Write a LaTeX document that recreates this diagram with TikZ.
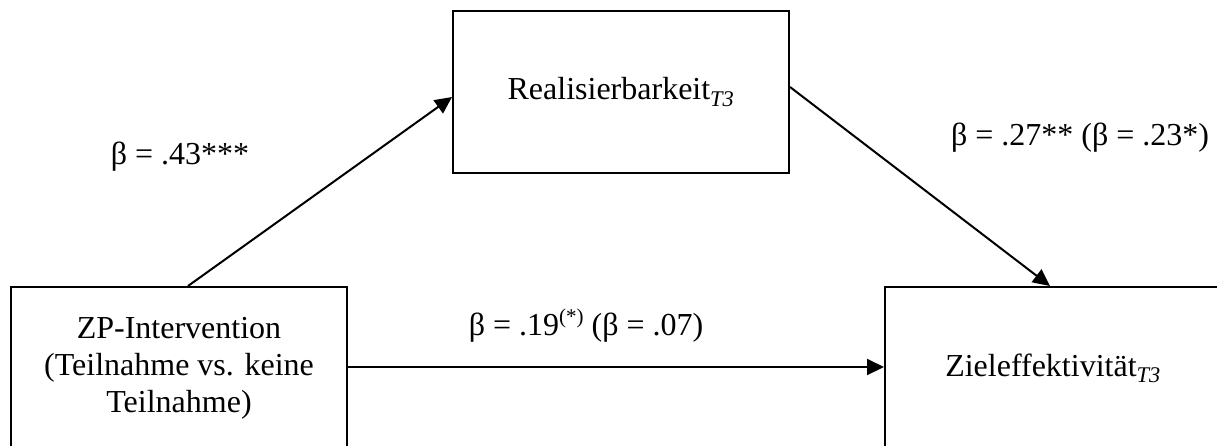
\documentclass[tikz,border=0pt]{standalone}
\usepackage{fontspec}
\setmainfont{Liberation Serif}
\usetikzlibrary{arrows.meta}
\newcommand{\supast}{\raisebox{0.36em}{\fontsize{21}{21}\selectfont(*)}}
\begin{document}
\begin{tikzpicture}[x=1pt,y=-1pt,
  every node/.style={font=\fontsize{32}{37}\selectfont},
  varbox/.style={draw,line width=2pt,minimum width=336pt,minimum height=162pt,align=center,inner sep=0pt},
  conn/.style={line width=2pt,-{Triangle[length=17pt,width=16pt]}},
  coef/.style={inner sep=0pt,anchor=base}]
\useasboundingbox (0,0) rectangle (1217,445);
\begin{scope}
\clip (0,0) rectangle (1217,445);
\node[varbox] (L) at (179,368) {ZP-Intervention\\(Teilnahme vs. keine\\Teilnahme)};
\node[varbox] (R) at (621,92) {Realisierbarkeit\textsubscript{\textit{T3}}};
\node[varbox] (Z) at (1053,368) {Zieleffektivität\textsubscript{\textit{T3}}};
\draw[conn] ([xshift=9pt]L.north) -- ([yshift=-5pt]R.west);
\draw[conn] ([yshift=5pt]R.east) -- ([xshift=-3pt]Z.north);
\draw[conn] ([yshift=1pt]L.east) -- ([yshift=1pt]Z.west);
\node[coef] (c1) at (180,164) {β = .43***};
\node[coef] (c2) at (1080,145) {β = .27** (β = .23*)};
\node[coef] (c3) at (586,335) {β = .19\supast\ (β = .07)};
\end{scope}
\end{tikzpicture}
\end{document}
